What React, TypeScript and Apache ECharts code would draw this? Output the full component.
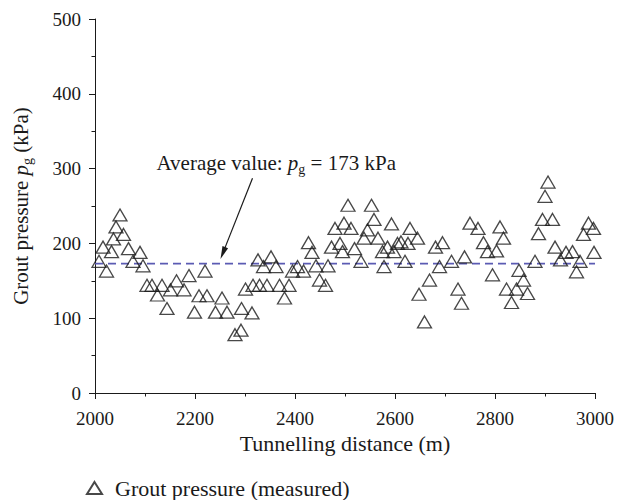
import { useEffect, useRef } from "react";
import * as echarts from "echarts";

// Tunnelling distance (m)
const distance = [
  2008, 2016, 2023, 2033, 2037, 2042, 2050, 2057, 2067, 2076,
  2090, 2096, 2104, 2114, 2125, 2134, 2144, 2151, 2163, 2178,
  2188, 2199, 2208, 2220, 2224, 2241, 2254, 2264, 2280, 2292,
  2293, 2301, 2314, 2316, 2326, 2329, 2337, 2344, 2352, 2362,
  2369, 2379, 2388, 2395, 2405, 2417, 2427, 2434, 2442, 2449,
  2461, 2466, 2473, 2480, 2490, 2495, 2498, 2506, 2512, 2519,
  2532, 2538, 2545, 2553, 2558, 2566, 2575, 2578, 2585, 2593,
  2598, 2605, 2612, 2620, 2626, 2630, 2645, 2648, 2659, 2669,
  2681, 2689, 2695, 2713, 2726, 2733, 2739, 2750, 2766, 2777,
  2785, 2795, 2803, 2810, 2817, 2823, 2833, 2843, 2848, 2857,
  2865, 2880, 2887, 2895, 2900, 2906, 2915, 2920, 2931, 2942,
  2955, 2963, 2970, 2977, 2987, 2997, 2998,
];

// Grout pressure p_g (kPa), measured
const pressure = [
  176, 195, 163, 189, 206, 222, 238, 212, 193, 176,
  188, 170, 144, 144, 131, 144, 113, 138, 150, 138,
  157, 108, 130, 163, 130, 108, 127, 108, 78, 84,
  113, 139, 107, 144, 178, 144, 169, 144, 182, 169,
  144, 127, 144, 163, 169, 163, 201, 188, 170, 151,
  144, 170, 195, 220, 200, 189, 227, 251, 220, 193,
  176, 207, 218, 251, 232, 207, 189, 169, 195, 226,
  189, 200, 202, 176, 200, 220, 207, 132, 95, 151,
  195, 169, 201, 176, 139, 120, 182, 227, 220, 201,
  189, 158, 190, 222, 207, 139, 121, 139, 164, 151,
  133, 176, 213, 232, 263, 282, 232, 195, 178, 188,
  189, 162, 176, 212, 227, 220, 188,
];

const averageValue = 173;
const xRange = [2000, 3000];
const yRange = [0, 500];
const xStep = 200;
const yStep = 100;

// annotation anchors (data coordinates)
const annotationTextAt = [2123, 307];
const arrowTail = [2315, 287];
const arrowTip = [2251, 179];

const FONT = "'Liberation Serif', 'Times New Roman', serif";
const INK = "#1a1a1a";

export default function App() {
  const ref = useRef<HTMLDivElement>(null);

  useEffect(() => {
    document.body.style.margin = "0";
    if (!ref.current) return;
    const chart = echarts.init(ref.current, undefined, { renderer: "svg" });

    const points = distance.map((d, i) => [d, pressure[i]]);

    chart.setOption({
      animation: false,
      backgroundColor: "#ffffff",
      grid: { left: 86, right: 22, top: 19, bottom: 107, containLabel: false },
      xAxis: {
        type: "value",
        min: xRange[0],
        max: xRange[1],
        interval: xStep,
        name: "Tunnelling distance (m)",
        nameLocation: "middle",
        nameGap: 31,
        nameTextStyle: { fontFamily: FONT, fontSize: 22, color: INK },
        axisLine: { show: true, lineStyle: { color: INK, width: 1 } },
        axisTick: { show: true, length: 6, lineStyle: { color: INK } },
        minorTick: { show: true, splitNumber: 2, length: 3.5, lineStyle: { color: INK } },
        axisLabel: {
          fontFamily: FONT,
          fontSize: 19,
          color: INK,
          margin: 16,
          formatter: (v: number) => String(v),
        },
        splitLine: { show: false },
      },
      yAxis: {
        type: "value",
        min: yRange[0],
        max: yRange[1],
        interval: yStep,
        name: "Grout pressure {i|p}{s|g} (kPa)",
        nameLocation: "middle",
        nameRotate: 90,
        nameGap: 61,
        nameTextStyle: {
          fontFamily: FONT,
          fontSize: 21,
          color: INK,
          lineHeight: 26,
          rich: {
            i: { fontFamily: FONT, fontSize: 21, fontStyle: "italic", color: INK, lineHeight: 26 },
            s: { fontFamily: FONT, fontSize: 14, color: INK, lineHeight: 14, verticalAlign: "bottom" },
          },
        },
        axisLine: { show: true, lineStyle: { color: INK, width: 1 } },
        axisTick: { show: true, length: 6, lineStyle: { color: INK } },
        minorTick: { show: true, splitNumber: 2, length: 3.5, lineStyle: { color: INK } },
        axisLabel: { fontFamily: FONT, fontSize: 19, color: INK, margin: 14 },
        splitLine: { show: false },
      },
      legend: {
        data: ["Grout pressure (measured)"],
        left: 86,
        top: 477,
        padding: 0,
        itemWidth: 15,
        itemHeight: 12,
        textStyle: { fontFamily: FONT, fontSize: 22, color: INK, padding: [0, 0, 0, 8] },
      },
      series: [
        {
          name: "Average",
          type: "line",
          data: [
            [xRange[0], averageValue],
            [xRange[1], averageValue],
          ],
          symbol: "none",
          lineStyle: { color: "#5b5bb3", width: 1.6, type: [8, 5] },
          silent: true,
          z: 1,
        },
        {
          name: "Grout pressure (measured)",
          type: "scatter",
          data: points,
          symbol: "triangle",
          symbolSize: [14, 12],
          itemStyle: { color: "rgba(255,255,255,0)", borderColor: INK, borderWidth: 1.3 },
          z: 2,
        },
      ],
    });

    const toPx = (p: number[]) => chart.convertToPixel({ gridIndex: 0 }, p) as number[];
    const tp = toPx(annotationTextAt);
    const s = toPx(arrowTail);
    const t = toPx(arrowTip);
    const dx = t[0] - s[0];
    const dy = t[1] - s[1];
    const len = Math.hypot(dx, dy);
    const ux = dx / len;
    const uy = dy / len;
    const headLen = 13;
    const headHalf = 3;
    const bx = t[0] - ux * headLen;
    const by = t[1] - uy * headLen;
    const nx = -uy;
    const ny = ux;

    chart.setOption({
      graphic: [
        {
          type: "text",
          x: tp[0],
          y: tp[1],
          style: {
            text: "Average value: {i|p}{s|g} = " + averageValue + " kPa",
            fontFamily: FONT,
            fontSize: 21,
            fill: INK,
            align: "left",
            verticalAlign: "middle",
            lineHeight: 26,
            rich: {
              i: { fontFamily: FONT, fontSize: 21, fontStyle: "italic", fill: INK, lineHeight: 26 },
              s: { fontFamily: FONT, fontSize: 14, fill: INK, lineHeight: 14, verticalAlign: "bottom" },
            },
          },
          z: 10,
        },
        {
          type: "line",
          shape: { x1: s[0], y1: s[1], x2: bx + ux * 2, y2: by + uy * 2 },
          style: { stroke: INK, lineWidth: 1.2 },
          z: 10,
        },
        {
          type: "polygon",
          shape: {
            points: [
              [t[0], t[1]],
              [bx + nx * headHalf, by + ny * headHalf],
              [bx - nx * headHalf, by - ny * headHalf],
            ],
          },
          style: { fill: INK },
          z: 10,
        },
      ],
    });

    return () => chart.dispose();
  }, []);

  return <div ref={ref} style={{ width: 617, height: 500 }} />;
}
